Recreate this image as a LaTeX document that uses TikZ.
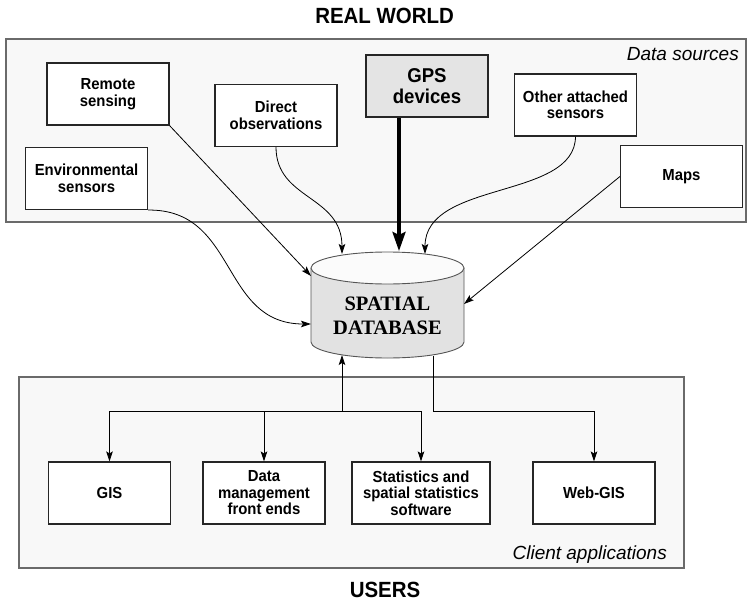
\documentclass[tikz,border=0pt]{standalone}
\usepackage{fontspec}
\setmainfont{Liberation Sans}
\newfontfamily\dbfont{Liberation Serif}
\newfontfamily\labelfont[FakeStretch=0.93]{Liberation Sans}
\usetikzlibrary{arrows.meta,calc}
\definecolor{boxfill}{HTML}{F8F8F8}
\definecolor{frameline}{HTML}{6A6A6A}
\definecolor{gpsfill}{HTML}{E4E4E4}
\definecolor{dbbody}{HTML}{E2E2E2}
\definecolor{dbtop}{HTML}{FBFBFB}
\definecolor{dbline}{HTML}{555555}
\begin{document}
\begin{tikzpicture}[x=1pt,y=1pt,
  region/.style={draw=frameline,line width=1.4pt,fill=boxfill,inner sep=0pt},
  srcbox/.style={draw=black!85,line width=1.1pt,fill=white,minimum width=122pt,minimum height=62pt,
    inner sep=0pt,align=center,font=\labelfont\bfseries\fontsize{16}{16.5}\selectfont},
  gpsbox/.style={srcbox,fill=gpsfill,line width=1.6pt,font=\labelfont\bfseries\fontsize{20}{21}\selectfont},
  conn/.style={line width=0.8pt,-{Stealth[length=10pt,width=6.5pt,inset=2pt]}},
  gpsconn/.style={line width=3.2pt,-{Stealth[length=19pt,width=13pt,inset=3pt]}},
  title/.style={font=\labelfont\bfseries\fontsize{22}{24}\selectfont,anchor=base,inner sep=0pt},
  regionlabel/.style={font=\itshape\fontsize{19}{22}\selectfont,anchor=base east,inner sep=0pt}
]
\useasboundingbox (0,0) rectangle (753,-602);

% regions
\node[region,minimum width=740pt,minimum height=183pt] (top) at (376,-130.5) {};
\node[region,minimum width=665pt,minimum height=191pt] (bottom) at (351.5,-472.5) {};

% titles
\node[title] (realworld) at (384.6,-24) {REAL WORLD};
\node[title] (users) at (385,-597) {USERS};
\node[regionlabel] (dsrc) at (739,-61) {Data sources};
\node[regionlabel] (capps) at (667,-559) {Client applications};

% source boxes
\node[srcbox] (remote) at (108,-94) {Remote\\sensing};
\node[srcbox] (direct) at (276,-115.5) {Direct\\observations};
\node[gpsbox] (gps) at (427,-86) {GPS\\devices};
\node[srcbox] (other) at (575.5,-105) {Other attached\\sensors};
\node[srcbox] (env) at (86.5,-178.5) {Environmental\\sensors};
\node[srcbox] (maps) at (681.5,-176.5) {Maps};

% client boxes
\node[srcbox] (gis) at (109.5,-493) {GIS};
\node[srcbox] (dm) at (264,-493) {Data\\management\\front ends};
\node[srcbox,minimum width=138pt] (stats) at (421,-493) {Statistics and\\spatial statistics\\software};
\node[srcbox] (web) at (594,-493) {Web-GIS};

% database cylinder
\fill[dbbody] (311,-268) -- (311,-342) arc[start angle=180,end angle=360,x radius=76.5,y radius=16]
  -- (464,-268) arc[start angle=0,end angle=180,x radius=76.5,y radius=16] -- cycle;
\draw[dbline,line width=0.9pt] (311,-268) -- (311,-342) arc[start angle=180,end angle=360,x radius=76.5,y radius=16] -- (464,-268);
\draw[dbline,line width=0.9pt,fill=dbtop] (387.5,-268) ellipse[x radius=76.5,y radius=16];
\node[font=\dbfont\bfseries\fontsize{20.5}{24}\selectfont,align=center,inner sep=0pt] (db) at (387.5,-316) {SPATIAL\\DATABASE};

\coordinate (dbDirect) at (342,-254);
\coordinate (dbGPS) at (399,-251);
\coordinate (dbOther) at (425,-254);
\coordinate (dbRemote) at (311,-276);
\coordinate (dbEnv) at (311,-324);
\coordinate (dbMaps) at (464,-304);
\coordinate (dbUp) at (342,-355);
\coordinate (dbWeb) at (433,-356);
\coordinate (bus) at (342,-411);

% incoming connectors
\draw[conn] (remote.south east) -- (dbRemote);
\draw[conn] (direct.south) .. controls (276,-200) and (342,-195) .. (dbDirect);
\draw[gpsconn] (gps.south -| dbGPS) -- (dbGPS);
\draw[conn] (other.south) .. controls (575,-200) and (425,-180) .. (dbOther);
\draw[conn] (maps.west) -- (dbMaps);
\draw[conn] (env.south east) .. controls (238,-209) and (220,-324) .. (dbEnv);

% outgoing connectors
\draw[conn] (bus) -- (dbUp);
\draw[conn] (bus) -| (gis.north);
\draw[conn] (bus) -| (dm.north);
\draw[conn] (bus) -| (stats.north);
\draw[conn] (dbWeb) -- (dbWeb |- bus) -| (web.north);
\end{tikzpicture}
\end{document}
